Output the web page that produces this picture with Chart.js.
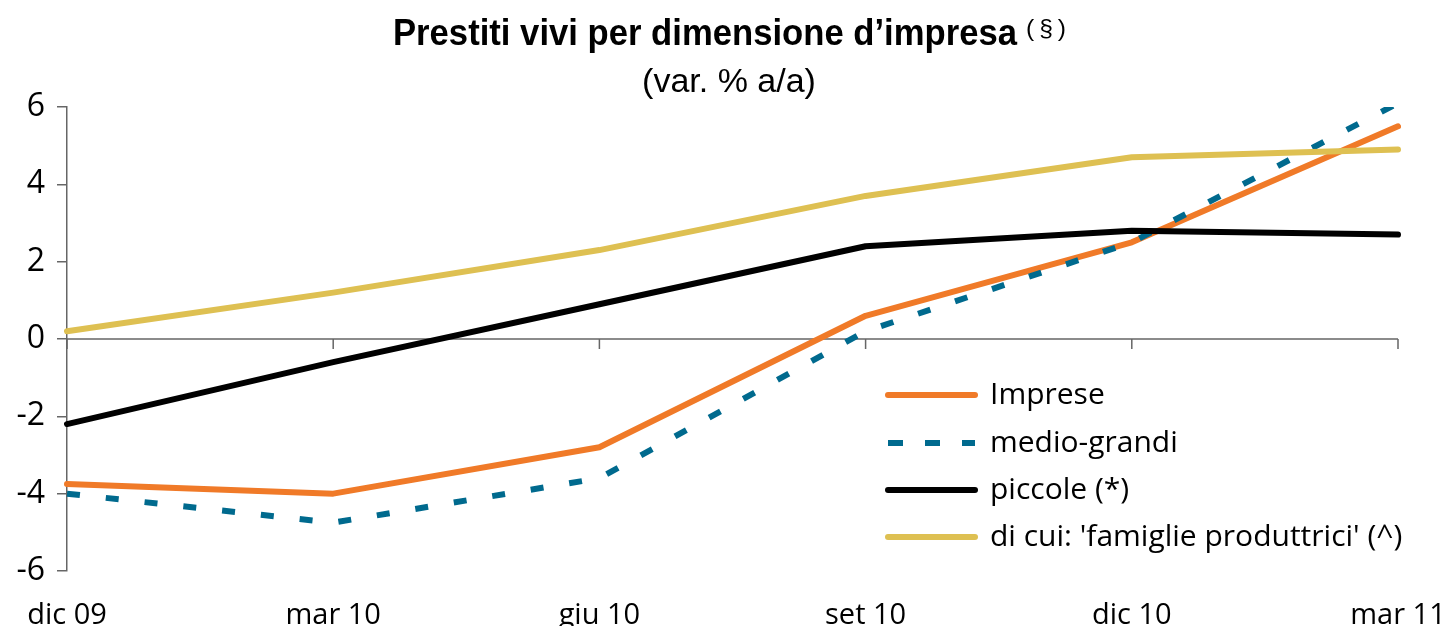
<!DOCTYPE html>
<html>
<head>
<meta charset="utf-8">
<script src="https://cdn.jsdelivr.net/npm/chart.js@4/dist/chart.umd.min.js"></script>
<style>
html,body{margin:0;padding:0;background:#fff;}
#wrap{width:1448px;height:626px;}
</style>
</head>
<body>
<div id="wrap"><canvas id="c" width="1448" height="626"></canvas></div>
<script>
const categories = ['dic 09', 'mar 10', 'giu 10', 'set 10', 'dic 10', 'mar 11'];
const imprese = [-3.75, -4.0, -2.8, 0.6, 2.5, 5.5];
const medioGrandi = [-4.0, -4.75, -3.6, 0.2, 2.5, 6.1];
const piccole = [-2.2, -0.6, 0.9, 2.4, 2.8, 2.7];
const famiglie = [0.2, 1.2, 2.3, 3.7, 4.7, 4.9];
const seriesNames = ['Imprese', 'medio-grandi', 'piccole (*)', "di cui: 'famiglie produttrici' (^)"];
const yTicks = [-6, -4, -2, 0, 2, 4, 6];
const titleText = 'Prestiti vivi per dimensione d\u2019impresa';
const titleSup = '(\u2009\u00A7\u2009)';
const subtitleText = '(var. % a/a)';

const ORANGE = '#F07A28', BLUE = '#006A8E', BLACK = '#000000', GOLD = '#DEC052';
const tickFont = '"Open Sans", "Noto Sans", sans-serif';
const titleFont = '"Liberation Sans", Arial, sans-serif';

const decor = {
  id: 'decor',
  beforeDatasetsDraw(chart) {
    const ctx = chart.ctx, x = chart.scales.x, y = chart.scales.y;
    const y0 = y.getPixelForValue(0);
    ctx.save();
    ctx.strokeStyle = '#666';
    ctx.lineWidth = 1.5;
    ctx.beginPath();
    ctx.moveTo(chart.chartArea.left, y0);
    ctx.lineTo(chart.chartArea.right, y0);
    for (let i = 0; i < categories.length; i++) {
      const px = x.getPixelForValue(i);
      ctx.moveTo(px, y0);
      ctx.lineTo(px, y0 + 10);
    }
    ctx.stroke();
    ctx.restore();
  },
  afterDraw(chart) {
    const ctx = chart.ctx;
    ctx.save();
    ctx.fillStyle = '#000';
    ctx.textBaseline = 'alphabetic';
    ctx.textAlign = 'left';
    ctx.font = 'bold 37px ' + titleFont;
    const tw = ctx.measureText(titleText).width;
    const sx = 624 / tw;
    ctx.save();
    ctx.translate(393, 45);
    ctx.scale(sx, 1);
    ctx.fillText(titleText, 0, 0);
    ctx.restore();
    ctx.font = '24px ' + titleFont;
    const sw = ctx.measureText(titleSup).width;
    ctx.save();
    ctx.translate(1026, 36);
    ctx.scale(40 / sw, 1);
    ctx.fillText(titleSup, 0, 0);
    ctx.restore();
    ctx.font = '34px ' + titleFont;
    ctx.textAlign = 'center';
    ctx.fillText(subtitleText, 729, 92);
    // legend
    const ds = chart.data.datasets;
    const rows = [395, 443, 490, 537];
    ctx.textAlign = 'left';
    ctx.textBaseline = 'middle';
    ctx.font = '30px ' + tickFont;
    for (let i = 0; i < ds.length; i++) {
      const d = ds[i];
      ctx.strokeStyle = d.borderColor;
      ctx.lineWidth = 6;
      if (d.borderDash && d.borderDash.length) {
        ctx.setLineDash([15, 22]);
        ctx.lineCap = 'butt';
      } else {
        ctx.setLineDash([]);
        ctx.lineCap = 'round';
      }
      ctx.beginPath();
      ctx.moveTo(888, rows[i]);
      ctx.lineTo(975, rows[i]);
      ctx.stroke();
      ctx.setLineDash([]);
      ctx.fillStyle = '#000';
      ctx.fillText(d.label, 990, rows[i]);
    }
    ctx.restore();
  }
};

new Chart(document.getElementById('c'), {
  type: 'line',
  data: {
    labels: categories,
    datasets: [
      { label: seriesNames[0], data: imprese, borderColor: ORANGE, backgroundColor: ORANGE, borderWidth: 6, borderCapStyle: 'round', order: 4 },
      { label: seriesNames[1], data: medioGrandi, borderColor: BLUE, backgroundColor: BLUE, borderWidth: 6, borderDash: [13, 26], borderCapStyle: 'butt', order: 3 },
      { label: seriesNames[2], data: piccole, borderColor: BLACK, backgroundColor: BLACK, borderWidth: 6, borderCapStyle: 'round', order: 2 },
      { label: seriesNames[3], data: famiglie, borderColor: GOLD, backgroundColor: GOLD, borderWidth: 6, borderCapStyle: 'round', order: 1 }
    ]
  },
  options: {
    responsive: false,
    animation: false,
    devicePixelRatio: 1,
    elements: { point: { radius: 0, hoverRadius: 0 }, line: { tension: 0, borderJoinStyle: 'round' } },
    layout: { padding: { top: 107, right: 50, left: 0, bottom: 0 } },
    plugins: { legend: { display: false }, title: { display: false }, tooltip: { enabled: false } },
    scales: {
      x: {
        type: 'category',
        offset: false,
        grid: { display: false },
        border: { display: false },
        ticks: { font: { family: tickFont, size: 29 }, color: '#000', padding: 19, maxRotation: 0, autoSkip: false },
        afterFit(s) { s.height = 55; s.paddingLeft = 0; s.paddingRight = 0; }
      },
      y: {
        min: -6, max: 6,
        afterBuildTicks(s) { s.ticks = yTicks.map(v => ({ value: v })); },
        grid: { drawOnChartArea: false, tickLength: 10, color: '#666', lineWidth: 1.5 },
        border: { color: '#666', width: 1.5 },
        ticks: { font: { family: tickFont, size: 32 }, color: '#000', padding: 12 },
        afterFit(s) { s.width = 67; s.paddingTop = 0; s.paddingBottom = 0; }
      }
    }
  },
  plugins: [decor]
});
</script>
</body>
</html>
